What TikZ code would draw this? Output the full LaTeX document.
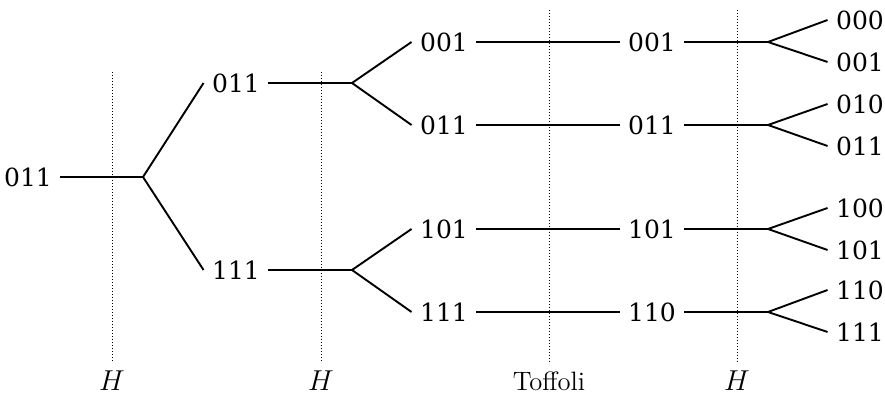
\documentclass[tikz,border=0pt]{standalone}
\usepackage{fontspec}
\newfontfamily\djserif{DejaVu Serif}
\begin{document}
\begin{tikzpicture}[x=0.5pt,y=-0.5pt,
  lbl/.style={inner sep=4.1pt,font=\djserif\fontsize{12.5}{15}\selectfont},
  gate/.style={inner sep=0pt,font=\fontsize{13.3}{16}\selectfont},
  wire/.style={line width=0.95pt},
  twire/.style={line width=0.75pt},
  sep/.style={line width=0.45pt,dash pattern=on 0.45pt off 1.05pt}]
\useasboundingbox (0,0) rectangle (885,394);
% separators
\draw[sep] (112,72) -- (112,361);
\draw[sep] (321,72) -- (321,361);
\draw[sep] (549,10) -- (549,362);
\draw[sep] (737,10) -- (737,362);
% labels
\node[lbl] (r) at (28,177) {011};
\node[lbl] (a1) at (236,83) {011};
\node[lbl] (a2) at (236,270) {111};
\node[lbl] (b1) at (444,42) {001};
\node[lbl] (b2) at (444,125) {011};
\node[lbl] (b3) at (444,229) {101};
\node[lbl] (b4) at (444,312) {111};
\node[lbl] (c1) at (652,42) {001};
\node[lbl] (c2) at (652,125) {011};
\node[lbl] (c3) at (652,229) {101};
\node[lbl] (c4) at (652,312) {110};
\node[lbl] (d1) at (860,20) {000};
\node[lbl] (d2) at (860,62) {001};
\node[lbl] (d3) at (860,104) {010};
\node[lbl] (d4) at (860,146) {011};
\node[lbl] (d5) at (860,208) {100};
\node[lbl] (d6) at (860,250) {101};
\node[lbl] (d7) at (860,290) {110};
\node[lbl] (d8) at (860,332) {111};
% gate labels
\node[gate] (g1) at (112,381) {$H$};
\node[gate] (g2) at (321,381) {$H$};
\node[gate] (g3) at (549,381) {Toffoli};
\node[gate] (g4) at (737,381) {$H$};
% branch points
\coordinate (p0) at (143,177);
\coordinate (p1) at (352,83);
\coordinate (p2) at (352,270);
\coordinate (q1) at (768,42);
\coordinate (q2) at (768,125);
\coordinate (q3) at (768,229);
\coordinate (q4) at (768,312);
% wires
\draw[wire] (r.east) -- (p0);
\draw[wire] (p0) -- (a1.west);
\draw[wire] (p0) -- (a2.west);
\draw[wire] (a1.east) -- (p1);
\draw[wire] (a2.east) -- (p2);
\draw[wire] (p1) -- (b1.west);
\draw[wire] (p1) -- (b2.west);
\draw[wire] (p2) -- (b3.west);
\draw[wire] (p2) -- (b4.west);
\draw[twire] (b1.east) -- (c1.west);
\draw[twire] (b2.east) -- (c2.west);
\draw[twire] (b3.east) -- (c3.west);
\draw[twire] (b4.east) -- (c4.west);
\draw[wire] (c1.east) -- (q1);
\draw[wire] (c2.east) -- (q2);
\draw[wire] (c3.east) -- (q3);
\draw[wire] (c4.east) -- (q4);
\draw[wire] (q1) -- (d1.west);
\draw[wire] (q1) -- (d2.west);
\draw[wire] (q2) -- (d3.west);
\draw[wire] (q2) -- (d4.west);
\draw[wire] (q3) -- (d5.west);
\draw[wire] (q3) -- (d6.west);
\draw[wire] (q4) -- (d7.west);
\draw[wire] (q4) -- (d8.west);
\end{tikzpicture}
\end{document}
